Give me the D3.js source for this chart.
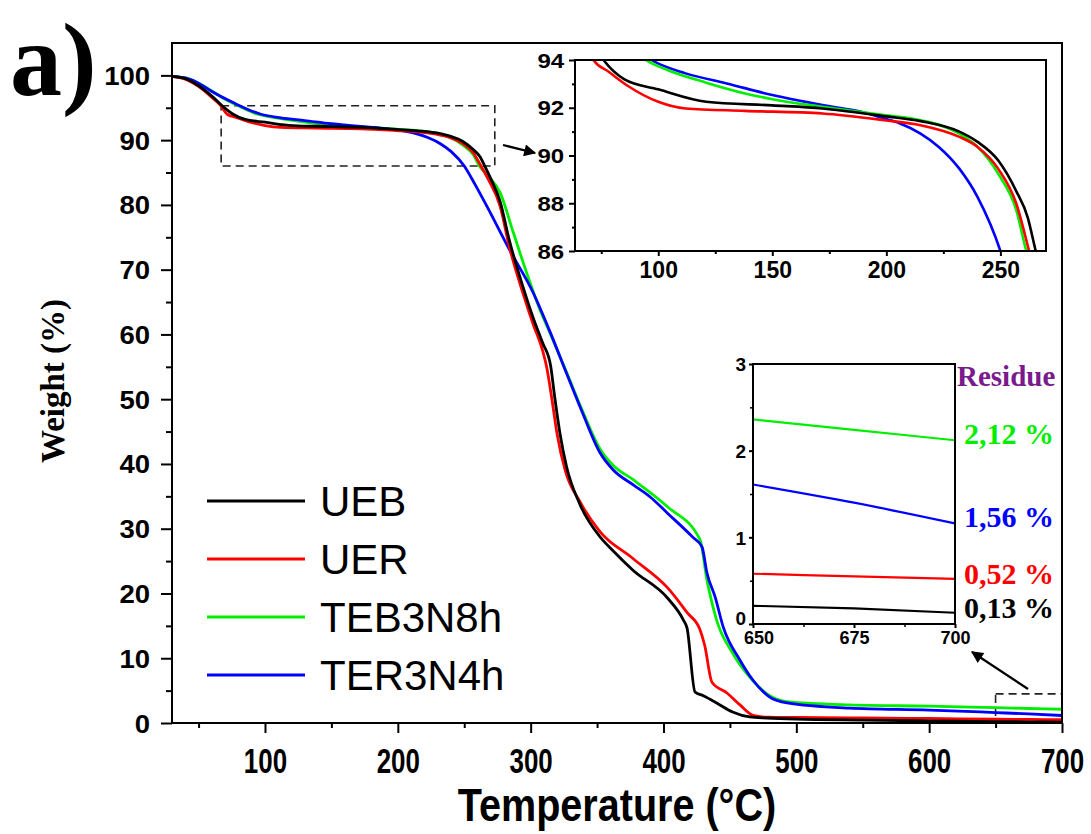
<!DOCTYPE html>
<html><head><meta charset="utf-8">
<script src="https://cdn.jsdelivr.net/npm/d3@7"></script>
<style>
html,body{margin:0;padding:0;background:#fff;}
svg{display:block;}
</style></head>
<body>
<svg id="chart" width="1091" height="834"></svg>
<script>
// ---------- DATA ----------
const seriesNames = ["UEB", "UER", "TEB3N8h", "TER3N4h"];

const uebTemp   = [30,40,50,60,70,76,85,100,121,150,172,199,215,232,240,249,257,262,265,271,277,284,294,302,309,315,318,322,327,337,352,362,377,403,415,417.7,423.7,430,440,452,465,478,500,550,600,650,675,700];
const uebWeight = [99.85,99.5,98.4,96.8,94.9,94.0,93.2,92.77,92.25,92.1,91.97,91.65,91.44,91.0,90.57,89.8,88.5,87.4,86.2,83.6,80.5,74.5,67.5,62.5,58.7,55.2,50.5,44.8,39.6,33.8,28.8,26.6,23.6,19.3,15.9,14.7,4.8,4.2,3.1,1.7,0.93,0.77,0.6,0.45,0.33,0.21,0.18,0.13];

const uerTemp   = [30,40,50,60,66,71.6,78.4,86.9,100,112,138,172,199,215,232,240,249,257,262.6,268,277,284,294,302,309,312,316,320,326,337,352,377,403,418,427.5,431,436.5,448,457.6,467.4,478,500,550,600,650,675,700];
const uerWeight = [99.85,99.4,98.3,96.6,95.5,94.0,93.5,92.9,92.25,91.97,91.87,91.76,91.48,91.27,90.78,90.36,89.45,87.98,86.0,84.0,79.8,73.5,66.5,61.5,57.5,55.0,50.0,44.5,39.0,34.2,29.6,25.4,20.9,17.0,14.4,12.0,6.3,4.6,2.8,1.2,0.9,0.85,0.78,0.7,0.58,0.55,0.52];

const tebTemp   = [30,40,50,60,70,80,94.5,104,121,138,150,172,199,215,232,240,249,257,261.4,268,277,287,297,307,315,327,339,352,362,377,403,427.5,432.7,440,452,467,480,493,540,600,650,675,700];
const tebWeight = [99.85,99.6,98.8,97.6,96.3,95.3,94.0,93.58,93.05,92.6,92.36,92.04,91.69,91.48,90.92,90.36,89.24,87.7,86.0,84.5,81.9,75.7,69.5,63.8,60.0,54.2,48.2,42.4,39.8,37.6,33.4,28.3,22.1,15.9,10.8,6.6,4.2,3.3,2.8,2.6,2.36,2.24,2.12];

const terTemp   = [30,40,50,60,76,97,112,130,150,172,189,199,206,215,223,232,240,250,258,267,284,302,315,327,339,352,362,377,390,403,422,429,432.7,438.8,445,457.6,467.4,480,493,540,600,650,675,700];
const terWeight = [99.85,99.6,98.8,97.5,95.8,94.0,93.44,93.02,92.53,92.11,91.83,91.55,91.34,90.92,90.36,89.45,88.26,86.0,83.2,79.8,73.1,66.4,60.2,54.0,47.9,41.8,39.1,36.8,34.9,32.4,28.7,27.2,23.2,19.5,14.8,9.7,6.6,4.0,3.1,2.3,2.0,1.61,1.40,1.16];

const mainXTicks = [100,200,300,400,500,600,700];
const mainXMinor = [50,150,250,350,450,550,650];
const mainYTicks = [0,10,20,30,40,50,60,70,80,90,100];
const mainYMinor = [5,15,25,35,45,55,65,75,85,95];
const in1XTicks = [100,150,200,250];
const in1XMinor = [75,125,175,225];
const in1YTicks = [86,88,90,92,94];
const in1YMinor = [87,89,91,93];
const in2XTicks = [650,675,700];
const in2XMinor = [662.5,687.5];
const in2YTicks = [0,1,2,3];
const in2YMinor = [0.5,1.5,2.5];
const zoomBox1 = {t0: 67, t1: 273, w0: 86, w1: 95.3};
const zoomBox2 = {t0: 650, t1: 700, w0: 0, w1: 4.5};
const residueTitle = "Residue";
const residueLabels = ["2,12 %", "1,56 %", "0,52 %", "0,13 %"];

// ---------- STYLE ----------
const colors = ["#000000", "#ff0000", "#00ee00", "#0000ff"];
const residueColors = ["#00ee00", "#0000ff", "#ff0000", "#000000"];
const series = [
  {name: seriesNames[0], t: uebTemp, w: uebWeight, color: colors[0]},
  {name: seriesNames[1], t: uerTemp, w: uerWeight, color: colors[1]},
  {name: seriesNames[2], t: tebTemp, w: tebWeight, color: colors[2]},
  {name: seriesNames[3], t: terTemp, w: terWeight, color: colors[3]}
].map(s => ({...s, pts: s.t.map((v,i) => [v, s.w[i]])}));

const svg = d3.select("#chart");
const sans = "'Liberation Sans', Arial, sans-serif";
const serif = "'Liberation Serif', 'Times New Roman', serif";

// ---------- MAIN PLOT ----------
const M = {l:172, r:1062, t:43, b:723};
const x = d3.scaleLinear().domain([30,700]).range([M.l, M.r]);
const y = d3.scaleLinear().domain([0,105]).range([M.b, M.t]);

const defs = svg.append("defs");
defs.append("clipPath").attr("id","clipMain")
  .append("rect").attr("x",M.l).attr("y",M.t).attr("width",M.r-M.l).attr("height",M.b-M.t);

// zoom dashed boxes in main
[zoomBox1, zoomBox2].forEach(b => {
  svg.append("rect")
    .attr("x", x(b.t0)).attr("y", y(b.w1))
    .attr("width", x(b.t1)-x(b.t0)).attr("height", y(b.w0)-y(b.w1))
    .attr("fill","none").attr("stroke","#222").attr("stroke-width",1.6)
    .attr("stroke-dasharray","8,5");
});

const line = d3.line().x(d => x(d[0])).y(d => y(d[1])).curve(d3.curveMonotoneX);
const gMain = svg.append("g").attr("clip-path","url(#clipMain)");
const order = [2,3,1,0];
order.forEach(i => {
  gMain.append("path").attr("d", line(series[i].pts))
    .attr("fill","none").attr("stroke", series[i].color).attr("stroke-width",2.8)
    .attr("stroke-linejoin","round");
});

// frame
svg.append("rect").attr("x",M.l).attr("y",M.t).attr("width",M.r-M.l).attr("height",M.b-M.t)
  .attr("fill","none").attr("stroke","#000").attr("stroke-width",2);

// x axis
const gx = svg.append("g").attr("transform",`translate(0,${M.b})`)
  .call(d3.axisBottom(x).tickValues(mainXTicks).tickSize(10).tickSizeOuter(0).tickPadding(14));
gx.select(".domain").remove();
gx.selectAll(".tick line").attr("stroke-width",2);
gx.selectAll("text").attr("font-family",sans).attr("font-weight","bold").attr("font-size",36)
  .attr("fill","#000").attr("transform","scale(0.72,1)");
svg.append("g").attr("transform",`translate(0,${M.b})`)
  .call(d3.axisBottom(x).tickValues(mainXMinor).tickSize(5).tickSizeOuter(0).tickFormat(""))
  .call(g => g.select(".domain").remove())
  .selectAll(".tick line").attr("stroke-width",2);

// y axis
const gy = svg.append("g").attr("transform",`translate(${M.l},0)`)
  .call(d3.axisLeft(y).tickValues(mainYTicks).tickSize(11).tickSizeOuter(0).tickPadding(9));
gy.select(".domain").remove();
gy.selectAll(".tick line").attr("stroke-width",2);
gy.selectAll("text").attr("font-family",sans).attr("font-weight","bold").attr("font-size",25)
  .attr("fill","#000").attr("transform","scale(1.1,1)").attr("dy","0.36em");
svg.append("g").attr("transform",`translate(${M.l},0)`)
  .call(d3.axisLeft(y).tickValues(mainYMinor).tickSize(6).tickSizeOuter(0).tickFormat(""))
  .call(g => g.select(".domain").remove())
  .selectAll(".tick line").attr("stroke-width",2);

// axis titles
svg.append("text").attr("transform",`translate(617,821) scale(0.86,1)`)
  .attr("text-anchor","middle").attr("font-family",sans).attr("font-weight","bold")
  .attr("font-size",46).text("Temperature (°C)");
svg.append("text").attr("transform",`translate(64,381) rotate(-90)`)
  .attr("text-anchor","middle").attr("font-family",serif).attr("font-weight","bold")
  .attr("font-size",33).text("Weight (%)");

// panel label
svg.append("text").attr("x",10).attr("y",95).attr("font-family",serif).attr("font-weight","bold")
  .attr("font-size",104).text("a)");

// legend
const legY = [501,559,617,675];
series.forEach((s,i) => {
  svg.append("line").attr("x1",207).attr("x2",305).attr("y1",legY[i]).attr("y2",legY[i])
    .attr("stroke",s.color).attr("stroke-width",3);
  svg.append("text").attr("x",320).attr("y",legY[i]).attr("dy","0.36em")
    .attr("font-family",sans).attr("font-size",42).text(s.name);
});

// arrows
defs.append("marker").attr("id","arr").attr("viewBox","0 0 10 10").attr("refX",9).attr("refY",5)
  .attr("markerWidth",16).attr("markerHeight",12).attr("markerUnits","userSpaceOnUse")
  .attr("orient","auto")
  .append("path").attr("d","M0,0 L10,5 L0,10 z").attr("fill","#000");
svg.append("line").attr("x1",503).attr("y1",145).attr("x2",535).attr("y2",153)
  .attr("stroke","#000").attr("stroke-width",2.2).attr("marker-end","url(#arr)");
svg.append("line").attr("x1",1028).attr("y1",689).attr("x2",972).attr("y2",652)
  .attr("stroke","#000").attr("stroke-width",2.2).attr("marker-end","url(#arr)");

// ---------- INSET 1 ----------
const I1 = {l:575, r:1046, t:60, b:251};
const ix = d3.scaleLinear().domain([63.5,270]).range([I1.l, I1.r]);
const iy = d3.scaleLinear().domain([86,94]).range([I1.b, I1.t]);
defs.append("clipPath").attr("id","clip1").append("rect")
  .attr("x",I1.l).attr("y",I1.t).attr("width",I1.r-I1.l).attr("height",I1.b-I1.t);
svg.append("rect").attr("x",I1.l).attr("y",I1.t).attr("width",I1.r-I1.l).attr("height",I1.b-I1.t).attr("fill","#fff");
const line1 = d3.line().x(d => ix(d[0])).y(d => iy(d[1])).curve(d3.curveMonotoneX);
const g1 = svg.append("g").attr("clip-path","url(#clip1)");
[3,2,0,1].forEach(i => {
  g1.append("path").attr("d", line1(series[i].pts)).attr("fill","none")
    .attr("stroke",series[i].color).attr("stroke-width",2.6);
});
svg.append("rect").attr("x",I1.l).attr("y",I1.t).attr("width",I1.r-I1.l).attr("height",I1.b-I1.t)
  .attr("fill","none").attr("stroke","#000").attr("stroke-width",2);
const g1x = svg.append("g").attr("transform",`translate(0,${I1.b})`)
  .call(d3.axisBottom(ix).tickValues(in1XTicks).tickSize(5).tickSizeOuter(0).tickPadding(6));
g1x.select(".domain").remove();
g1x.selectAll(".tick line").attr("stroke-width",2);
g1x.selectAll("text").attr("font-family",sans).attr("font-weight","bold").attr("font-size",23).attr("fill","#000");
svg.append("g").attr("transform",`translate(0,${I1.b})`)
  .call(d3.axisBottom(ix).tickValues(in1XMinor).tickSize(3).tickSizeOuter(0).tickFormat(""))
  .call(g => g.select(".domain").remove()).selectAll(".tick line").attr("stroke-width",2);
const g1y = svg.append("g").attr("transform",`translate(${I1.l},0)`)
  .call(d3.axisLeft(iy).tickValues(in1YTicks).tickSize(6).tickSizeOuter(0).tickPadding(3));
g1y.select(".domain").remove();
g1y.selectAll(".tick line").attr("stroke-width",2);
g1y.selectAll("text").attr("font-family",sans).attr("font-weight","bold").attr("font-size",20)
  .attr("fill","#000").attr("transform","scale(1.2,1)").attr("dy","0.36em");
svg.append("g").attr("transform",`translate(${I1.l},0)`)
  .call(d3.axisLeft(iy).tickValues(in1YMinor).tickSize(3).tickSizeOuter(0).tickFormat(""))
  .call(g => g.select(".domain").remove()).selectAll(".tick line").attr("stroke-width",2);

// ---------- INSET 2 ----------
const I2 = {l:753, r:955, t:364, b:624};
const jx = d3.scaleLinear().domain([650,700]).range([I2.l, I2.r]);
const jy = d3.scaleLinear().domain([0,3]).range([I2.b, I2.t]);
defs.append("clipPath").attr("id","clip2").append("rect")
  .attr("x",I2.l).attr("y",I2.t).attr("width",I2.r-I2.l).attr("height",I2.b-I2.t);
svg.append("rect").attr("x",I2.l).attr("y",I2.t).attr("width",I2.r-I2.l).attr("height",I2.b-I2.t).attr("fill","#fff");
const line2 = d3.line().x(d => jx(d[0])).y(d => jy(d[1])).curve(d3.curveMonotoneX);
const g2 = svg.append("g").attr("clip-path","url(#clip2)");
[0,1,2,3].forEach(i => {
  g2.append("path").attr("d", line2(series[i].pts.filter(p => p[0] >= 640))).attr("fill","none")
    .attr("stroke",series[i].color).attr("stroke-width",2.2);
});
svg.append("rect").attr("x",I2.l).attr("y",I2.t).attr("width",I2.r-I2.l).attr("height",I2.b-I2.t)
  .attr("fill","none").attr("stroke","#000").attr("stroke-width",2);
const g2x = svg.append("g").attr("transform",`translate(0,${I2.b})`)
  .call(d3.axisBottom(jx).tickValues(in2XTicks).tickSize(4).tickSizeOuter(0).tickPadding(3));
g2x.select(".domain").remove();
g2x.selectAll(".tick line").attr("stroke-width",2);
g2x.selectAll("text").attr("font-family",sans).attr("font-weight","bold").attr("font-size",18).attr("fill","#000");
g2x.selectAll(".tick").filter(d => d === 650).select("text").attr("dx","0.3em");
svg.append("g").attr("transform",`translate(0,${I2.b})`)
  .call(d3.axisBottom(jx).tickValues(in2XMinor).tickSize(3).tickSizeOuter(0).tickFormat(""))
  .call(g => g.select(".domain").remove()).selectAll(".tick line").attr("stroke-width",1.5);
const g2y = svg.append("g").attr("transform",`translate(${I2.l},0)`)
  .call(d3.axisLeft(jy).tickValues(in2YTicks).tickFormat(d3.format("d")).tickSize(4).tickSizeOuter(0).tickPadding(3));
g2y.select(".domain").remove();
g2y.selectAll(".tick line").attr("stroke-width",2);
g2y.selectAll("text").attr("font-family",sans).attr("font-weight","bold").attr("font-size",19)
  .attr("fill","#000").attr("dy","0.36em");
g2y.selectAll(".tick").filter(d => d === 0).select("text").attr("dy","0.05em");
svg.append("g").attr("transform",`translate(${I2.l},0)`)
  .call(d3.axisLeft(jy).tickValues(in2YMinor).tickSize(3).tickSizeOuter(0).tickFormat(""))
  .call(g => g.select(".domain").remove()).selectAll(".tick line").attr("stroke-width",1.5);

// residue labels
svg.append("text").attr("x",957).attr("y",376).attr("dy","0.35em").attr("font-family",serif)
  .attr("font-weight","bold").attr("font-size",29).attr("fill","#7a1a8c").text(residueTitle);
const resY = [433,516,573,607];
residueLabels.forEach((t,i) => {
  svg.append("text").attr("x",964).attr("y",resY[i]).attr("dy","0.35em").attr("font-family",serif)
    .attr("font-weight","bold").attr("font-size",30).attr("fill",residueColors[i]).text(t);
});
</script>
</body></html>
